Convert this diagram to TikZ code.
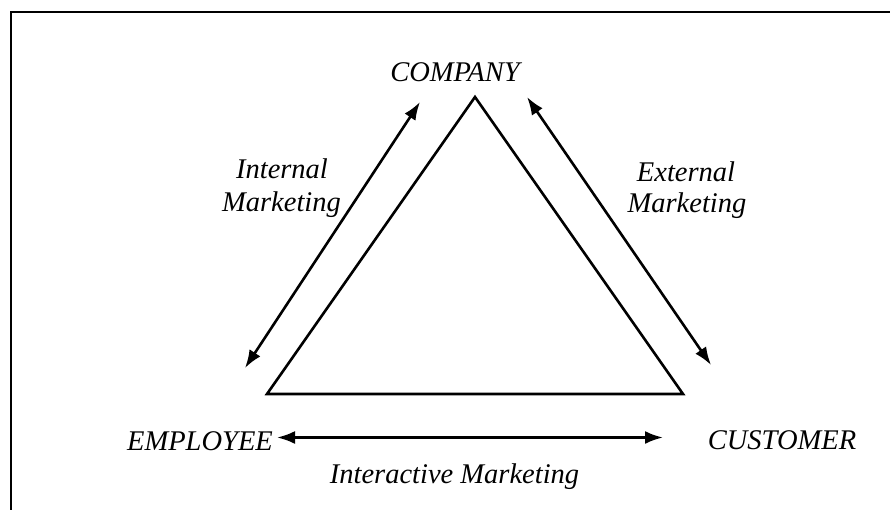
\documentclass[tikz,border=0pt]{standalone}
\usepackage{fontspec}
\setmainfont{Liberation Serif}
\usetikzlibrary{arrows.meta}
\begin{document}
\begin{tikzpicture}[x=1pt,y=-1pt,
  lbl/.style={font=\fontsize{28.5}{33}\selectfont\itshape, inner sep=0pt, anchor=base},
  edge/.style={line width=2.6pt, line join=miter},
  link/.style={line width=2.6pt, {Latex[length=18pt,width=13pt]}-{Latex[length=18pt,width=13pt]}}]
  \useasboundingbox (0,0) rectangle (890,510);
  \fill[white] (0,0) rectangle (890,510);
  % frame: top and left rules
  \draw[line width=2.4pt] (890,12) -- (11,12) -- (11,510);

  % triangle
  \coordinate (apex) at (475,97);
  \coordinate (bl) at (267,394);
  \coordinate (br) at (683,394);
  \draw[edge] (apex) -- (bl) -- (br) -- cycle;

  % labels
  \node[lbl] (company) at (455,82) {COMPANY};
  \node[lbl] (employee) at (200,450) {EMPLOYEE};
  \node[lbl] (customer) at (782,449) {CUSTOMER};
  \node[lbl] (inter) at (454.5,483) {Interactive Marketing};
  \node[lbl] (int1) at (282,179) {Internal};
  \node[lbl] (int2) at (281.5,212) {Marketing};
  \node[lbl] (ext1) at (686,182) {External};
  \node[lbl] (ext2) at (687,213) {Marketing};

  % arrow end points
  \coordinate (iTop) at (420,102);
  \coordinate (iBot) at (245,368);
  \coordinate (eTop) at (527,97);
  \coordinate (eBot) at (711,365);
  \coordinate (hL) at (277,437.5);
  \coordinate (hR) at (663,437.5);

  \draw[link] (iBot) -- (iTop);
  \draw[link] (eTop) -- (eBot);
  \draw[link] (hL) -- (hR);
\end{tikzpicture}
\end{document}
